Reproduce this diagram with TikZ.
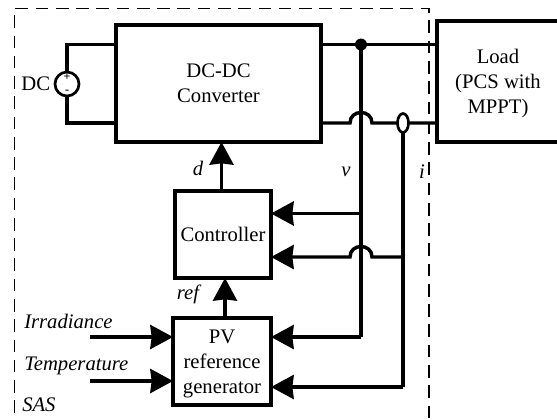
\documentclass[tikz,border=0pt]{standalone}
\usepackage{fontspec}
\setmainfont{Liberation Serif}
\usetikzlibrary{arrows.meta,positioning,shapes.geometric}

\begin{document}
\begin{tikzpicture}[
  x=0.75pt,y=-0.75pt,
  block/.style={draw,fill=white,line width=2.8pt,outer sep=0pt,inner sep=0pt,align=center,font=\fontsize{15.5}{19}\selectfont},
  label/.style={inner sep=0pt,font=\fontsize{15.5}{18}\selectfont},
  mathlabel/.style={inner sep=0pt,font=\fontsize{15.5}{18}\selectfont\itshape},
  polarity/.style={inner sep=0pt,font=\fontsize{9}{9}\selectfont\bfseries},
  wire/.style={line width=2.6pt},
  arrow/.style={-{Stealth[length=17pt,width=18pt,inset=1pt]},line width=2.6pt},
  boundary/.style={line width=1.3pt,dash pattern=on 9.5pt off 5.7pt}
]
\useasboundingbox (0,0) rectangle (557,419);
% outer boundary, open at the bottom
\coordinate (sasbl) at (14.5,413);
\coordinate (sastl) at (14.5,8.5);
\coordinate (sastr) at (429,8.5);
\coordinate (sasbr) at (429,419);
\draw[boundary] (sasbl) -- (sastl) -- (sastr) -- (sasbr);

\node[block,minimum width=205*0.75pt,minimum height=117*0.75pt] (conv) at (218.5,83.5) {DC-DC\\Converter};
\node[block,minimum width=122*0.75pt,minimum height=121*0.75pt,right=87pt of conv,yshift=1.5pt] (load) {\rule{0pt}{14pt}Load\\(PCS with\\MPPT)};
\node[block,minimum width=96*0.75pt,minimum height=87*0.75pt] (ctrl) at (223,234.5) {Controller};
\node[block,minimum width=98*0.75pt,minimum height=87*0.75pt,below=30pt of ctrl,xshift=-0.75pt] (pvref) {\rule{0pt}{14pt}PV\\reference\\generator};

% source
\coordinate (dctop) at (67,44.5);
\coordinate (dcbot) at (67,123);
\coordinate (convtop) at (conv.west |- dctop);
\coordinate (convbot) at (conv.west |- dcbot);
\draw[wire] (convtop) -- (dctop) -- (dcbot) -- (convbot);
\node[circle,draw,fill=white,line width=2pt,minimum size=24*0.75pt,inner sep=0pt] (dc) at (67,84) {};
\node[polarity] (dcplus) at (67,77) {+};
\node[polarity] (dcminus) at (67,92) {-};
\node[label,left=2.5pt of dc] (dclabel) {DC};

% output lines
\coordinate (vtap) at (361,44.5);
\coordinate (hopa) at (350,123);
\coordinate (hopb) at (372,123);
\coordinate (itap) at (403,123);
\coordinate (vbot) at (361,337);
\coordinate (ibot) at (403,387);
\coordinate (vctrl) at (361,213.5);
\coordinate (ictrl) at (403,257);
\coordinate (hopc) at (372,257);
\coordinate (hopd) at (350,257);
\draw[wire] (conv.east |- vtap) -- (load.west |- vtap);
\draw[wire] (conv.east |- hopa) -- (hopa) .. controls +(0,-14) and +(0,-14) .. (hopb) -- (itap) -- (load.west |- itap);
\draw[wire] (vtap) -- (vbot);
\draw[wire] (itap) -- (ibot);
\fill (vtap) circle [radius=4.5pt];
\node[ellipse,draw,fill=white,line width=2pt,minimum width=11*0.75pt,minimum height=19*0.75pt,inner sep=0pt] (isense) at (itap) {};

% feedback arrows
\coordinate (dline) at (221.5,0);
\coordinate (refline) at (225,0);
\draw[arrow] (vctrl) -- (ctrl.east |- vctrl);
\draw[arrow] (ictrl) -- (hopc) .. controls +(0,-14) and +(0,-14) .. (hopd) -- (ctrl.east |- ictrl);
\draw[arrow] (vbot) -- (pvref.east |- vbot);
\draw[arrow] (ibot) -- (pvref.east |- ibot);
\draw[arrow] (ctrl.north -| dline) -- (conv.south -| dline);
\draw[arrow] (pvref.north -| refline) -- (ctrl.south -| refline);

% inputs
\coordinate (irrin) at (90,337);
\coordinate (tempin) at (90,381);
\draw[arrow] (irrin) -- (pvref.west |- irrin);
\draw[arrow] (tempin) -- (pvref.west |- tempin);

% labels
\node[mathlabel] (dlabel) at (198,168) {d};
\node[mathlabel] (vlabel) at (346,172) {v};
\node[mathlabel] (ilabel) at (422,172) {i};
\node[mathlabel] (reflabel) at (188,294) {ref};
\node[mathlabel,anchor=west] (irrlabel) at (24,321) {Irradiance};
\node[mathlabel,anchor=west] (templabel) at (24,366) {Temperature};
\node[mathlabel,anchor=west] (saslabel) at (22,405) {SAS};
\end{tikzpicture}
\end{document}
